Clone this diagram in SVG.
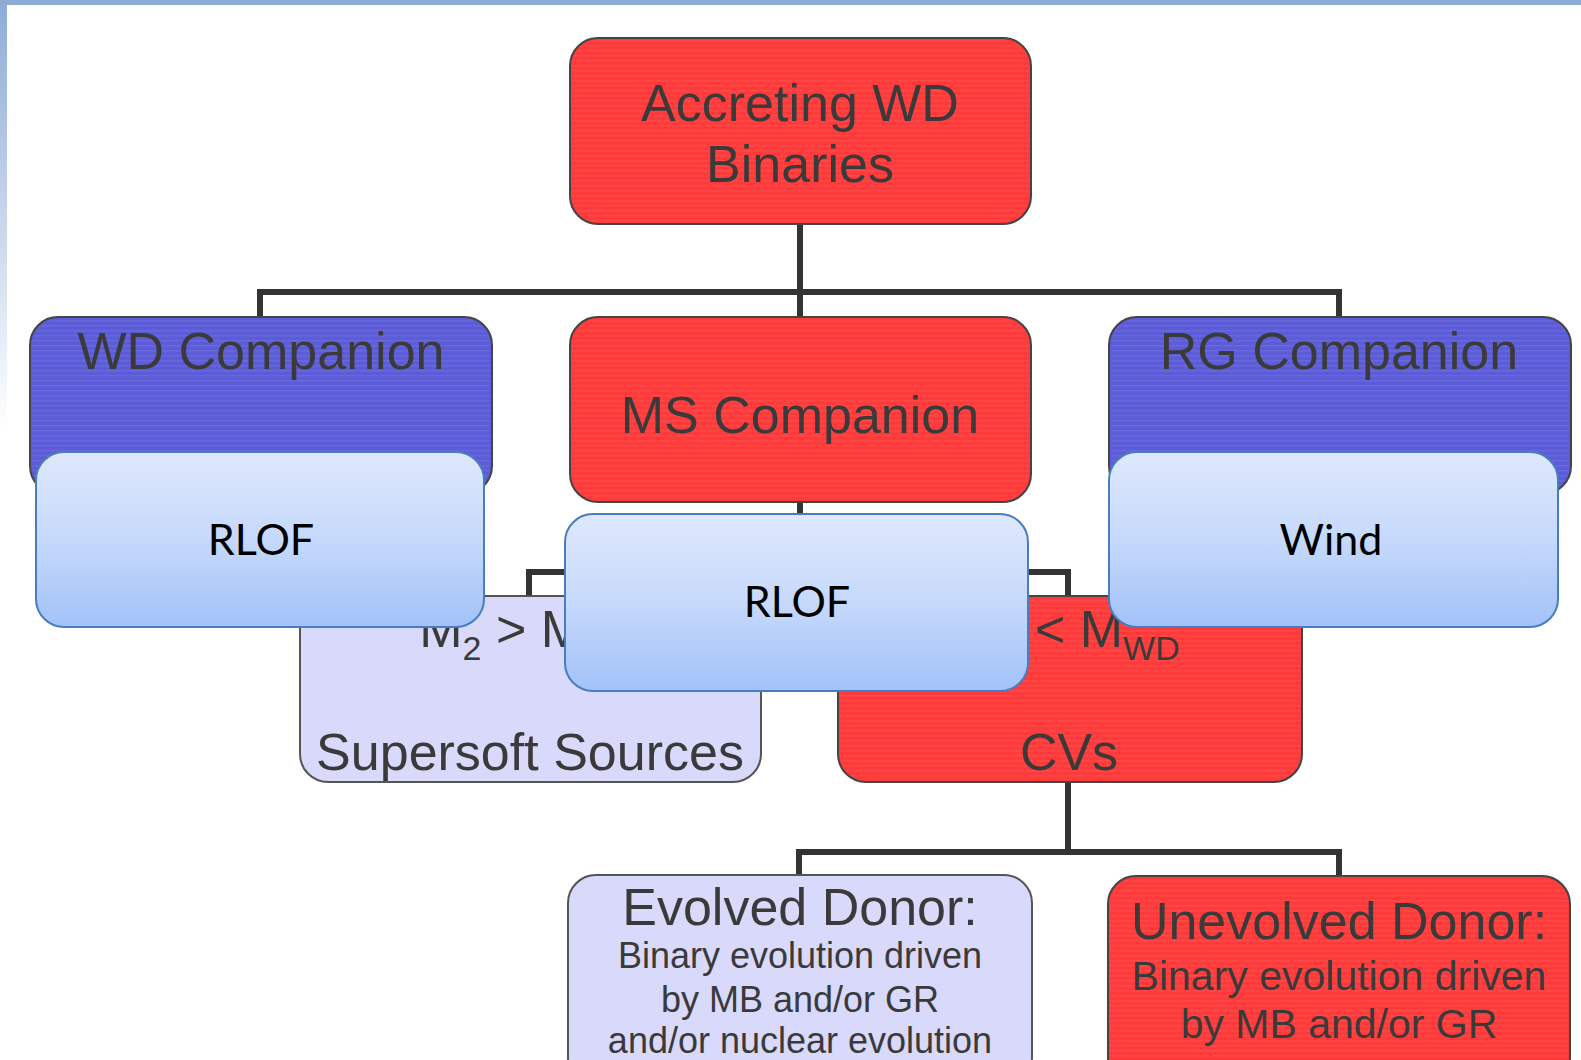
<svg xmlns="http://www.w3.org/2000/svg" width="1581" height="1060" viewBox="0 0 1581 1060">
<defs>
<linearGradient id="leftStrip" x1="0" y1="0" x2="0" y2="1">
<stop offset="0" stop-color="#8eabd6"/>
<stop offset="1" stop-color="#ffffff"/>
</linearGradient>
<linearGradient id="overlay" x1="0" y1="0" x2="0" y2="1">
<stop offset="0" stop-color="#dfe9fd"/>
<stop offset="0.5" stop-color="#c6d9fb"/>
<stop offset="1" stop-color="#a2c2f8"/>
</linearGradient>
<pattern id="stripes" width="8" height="5" patternUnits="userSpaceOnUse">
<rect x="0" y="0" width="8" height="1.5" fill="#ffffff" fill-opacity="0.07"/>
</pattern>
</defs>
<style>
.red{fill:#fe3a3a;stroke:#454545;stroke-width:2}
.blue{fill:#5c5cd9;stroke:#454545;stroke-width:2}
.lav{fill:#d9d9fb;stroke:#555555;stroke-width:2}
.str{fill:url(#stripes);stroke:none}
.ov{fill:url(#overlay);stroke:#4a7dbf;stroke-width:2}
.big{font-family:"Liberation Sans",Arial,sans-serif;font-size:52px;fill:#3a3a3a;text-anchor:middle}
.sm{font-family:"Liberation Sans",Arial,sans-serif;font-size:36px;fill:#3a3a3a;text-anchor:middle}
.md{font-family:"Liberation Sans",Arial,sans-serif;font-size:41px;fill:#3a3a3a;text-anchor:middle}
.sub{font-size:34px}
.ot{font-family:Lato,"Open Sans",sans-serif;font-size:43px;fill:#000000;text-anchor:middle}
.conn{fill:none;stroke:#333333;stroke-width:6}
</style>
<rect x="0" y="0" width="1581" height="1060" fill="#ffffff"/>
<rect x="0" y="0" width="7" height="430" fill="url(#leftStrip)"/>
<rect x="0" y="0" width="1581" height="5" fill="#8eabd6"/>
<g id="connectors">
<path class="conn" d="M800 224 V292 M260 318 V292 H1339 V318 M800 292 V318"/>
<path class="conn" d="M800 502 V572 M529 597 V572 H1068 V597"/>
<path class="conn" d="M1068 782 V852 M799 876 V852 H1339 V877"/>
</g>
<g id="accreting">
<rect class="red" x="570" y="38" width="461" height="186" rx="28"/>
<rect class="str" x="572" y="40" width="457" height="182" rx="26"/>
<text class="big" x="800" y="121">Accreting WD</text>
<text class="big" x="800" y="182">Binaries</text>
</g>
<g id="wd-companion">
<rect class="blue" x="30" y="317" width="462" height="177" rx="28"/>
<rect class="str" x="32" y="319" width="458" height="173" rx="26"/>
<text class="big" x="261" y="369">WD Companion</text>
</g>
<g id="ms-companion">
<rect class="red" x="570" y="317" width="461" height="185" rx="28"/>
<rect class="str" x="572" y="319" width="457" height="181" rx="26"/>
<text class="big" x="800" y="433">MS Companion</text>
</g>
<g id="rg-companion">
<rect class="blue" x="1109" y="317" width="462" height="177" rx="28"/>
<rect class="str" x="1111" y="319" width="458" height="173" rx="26"/>
<text class="big" x="1339" y="369">RG Companion</text>
</g>
<g id="supersoft">
<rect class="lav" x="300" y="596" width="461" height="186" rx="28"/>
<text class="big" x="530" y="647">M<tspan class="sub" dy="13">2</tspan><tspan dy="-13"> &gt; M</tspan><tspan class="sub" dy="13">WD</tspan></text>
<text class="big" x="530" y="770">Supersoft Sources</text>
</g>
<g id="cvs">
<rect class="red" x="838" y="596" width="464" height="186" rx="28"/>
<rect class="str" x="840" y="598" width="460" height="182" rx="26"/>
<text class="big" x="1069" y="647">M<tspan class="sub" dy="13">2</tspan><tspan dy="-13"> &lt; M</tspan><tspan class="sub" dy="13">WD</tspan></text>
<text class="big" x="1069" y="770">CVs</text>
</g>
<g id="evolved">
<rect class="lav" x="568" y="875" width="464" height="210" rx="28"/>
<text class="big" x="800" y="925">Evolved Donor:</text>
<text class="sm" x="800" y="968">Binary evolution driven</text>
<text class="sm" x="800" y="1012">by MB and/or GR</text>
<text class="sm" x="800" y="1053">and/or nuclear evolution</text>
</g>
<g id="unevolved">
<rect class="red" x="1108" y="876" width="462" height="210" rx="28"/>
<rect class="str" x="1110" y="878" width="458" height="206" rx="26"/>
<text class="big" x="1339" y="939">Unevolved Donor:</text>
<text class="md" x="1339" y="990">Binary evolution driven</text>
<text class="md" x="1339" y="1038">by MB and/or GR</text>
</g>
<g id="rlof-wd">
<rect class="ov" x="36" y="452" width="448" height="175" rx="28"/>
<text class="ot" x="261" y="555">RLOF</text>
</g>
<g id="rlof-ms">
<rect class="ov" x="565" y="514" width="463" height="177" rx="28"/>
<text class="ot" x="797" y="617">RLOF</text>
</g>
<g id="wind-rg">
<rect class="ov" x="1109" y="452" width="449" height="175" rx="28"/>
<text class="ot" x="1331" y="555">Wind</text>
</g>
</svg>
